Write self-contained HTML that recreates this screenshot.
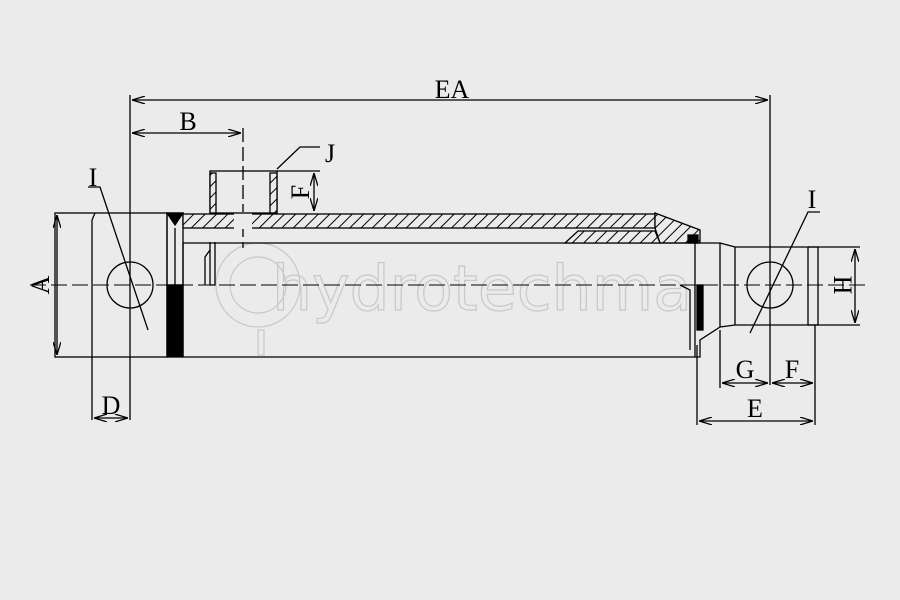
<!DOCTYPE html>
<html><head><style>html,body{margin:0;padding:0;background:#ebebeb}svg{display:block}</style></head><body>
<svg width="900" height="600" viewBox="0 0 900 600" xmlns="http://www.w3.org/2000/svg" font-family="Liberation Serif, serif">
<defs>
<pattern id="h" width="8" height="8" patternUnits="userSpaceOnUse" patternTransform="rotate(45)">
<rect width="8" height="8" fill="#ebebeb"/><line x1="0" y1="0" x2="0" y2="8" stroke="#000" stroke-width="2"/>
</pattern>
<marker id="a" markerWidth="10" markerHeight="6" refX="10" refY="3" orient="auto-start-reverse"><path d="M0,0 L10,3 L0,6" fill="none" stroke="#000" stroke-width="1"/></marker>
</defs>
<rect width="900" height="600" fill="#ebebeb"/>
<!-- watermark -->
<g fill="none" stroke="#c8c8c8" stroke-width="1.2">
<circle cx="258" cy="285" r="42"/><circle cx="258" cy="285" r="28"/>
<text x="272" y="310" font-family="DejaVu Sans, sans-serif" font-size="62" textLength="420" lengthAdjust="spacingAndGlyphs">hydrotechma</text>
<rect x="258" y="330" width="6" height="25"/>
</g>
<g stroke="#000" fill="none" stroke-width="1.3">
<!-- EA -->
<line x1="130" y1="95" x2="130" y2="420"/>
<line x1="770" y1="95" x2="770" y2="385"/>
<line x1="132" y1="100" x2="768" y2="100" marker-start="url(#a)" marker-end="url(#a)"/>
<!-- B -->
<line x1="243" y1="128" x2="243" y2="248" stroke-dasharray="14,5"/>
<line x1="132" y1="133" x2="241" y2="133" marker-start="url(#a)" marker-end="url(#a)"/>
<!-- left clevis -->
<rect x="55" y="213" width="112" height="144"/>
<line x1="92" y1="220" x2="92" y2="420"/>
<path d="M92,220 L95,213"/>
<circle cx="130" cy="285" r="23"/>
<line x1="57" y1="215" x2="57" y2="355" marker-start="url(#a)" marker-end="url(#a)"/>
<line x1="94" y1="418" x2="128" y2="418" marker-start="url(#a)" marker-end="url(#a)"/>
<rect x="167" y="285" width="16" height="72" fill="#000"/>
<rect x="167" y="213" width="16" height="72"/>
<line x1="175" y1="228" x2="175" y2="285"/>
<path d="M167,213 L183,213 L175,225 Z" fill="#000"/>
<!-- tube -->
<rect x="183" y="214" width="472" height="14" fill="url(#h)" stroke="#000"/>
<path d="M655,213 L700,230 L700,243 L660,243 L655,228 Z" fill="url(#h)"/>
<rect x="234" y="212" width="18" height="17" fill="#ebebeb" stroke="none"/>
<line x1="183" y1="243" x2="700" y2="243"/>
<line x1="183" y1="243" x2="183" y2="357"/>
<line x1="183" y1="357" x2="695" y2="357"/>
<path d="M565,243 L578,231 L655,231 L660,243 Z" fill="url(#h)"/>
<rect x="688" y="235" width="10" height="8" fill="#000"/>
<!-- piston -->
<path d="M210,250 L205,257 L205,285 M210,242 L210,285 L215,285 L215,242"/>
<!-- rod/end -->
<path d="M695,357 L695,243"/>
<path d="M680,285 L690,290 L690,350"/>
<rect x="697" y="285" width="6" height="45" fill="#000"/>
<path d="M700,243 L720,243 L720,327 L700,340 L700,357 L695,357"/>
<path d="M720,243 L735,247 L808,247 L808,325 L735,325 L720,327"/>
<line x1="735" y1="247" x2="735" y2="325"/>
<path d="M808,247 L818,247 L818,325 L808,325"/>
<circle cx="770" cy="285" r="23"/>
<line x1="808" y1="247" x2="860" y2="247"/><line x1="808" y1="325" x2="860" y2="325"/>
<line x1="855" y1="249" x2="855" y2="323" marker-start="url(#a)" marker-end="url(#a)"/>
<!-- port -->
<rect x="210" y="171" width="67" height="42"/>
<rect x="210" y="173" width="6" height="40" fill="url(#h)"/>
<rect x="270" y="173" width="7" height="40" fill="url(#h)"/>
<line x1="277" y1="171" x2="320" y2="171"/>
<line x1="314" y1="173" x2="314" y2="211" marker-start="url(#a)" marker-end="url(#a)"/>
<path d="M277,169 L300,147 L320,147"/>
<!-- G F E -->
<line x1="720" y1="330" x2="720" y2="388"/>
<line x1="697" y1="345" x2="697" y2="425"/>
<line x1="815" y1="325" x2="815" y2="425"/>
<line x1="722" y1="383" x2="768" y2="383" marker-start="url(#a)" marker-end="url(#a)"/>
<line x1="772" y1="383" x2="813" y2="383" marker-start="url(#a)" marker-end="url(#a)"/>
<line x1="699" y1="421" x2="813" y2="421" marker-start="url(#a)" marker-end="url(#a)"/>
<!-- I leaders -->
<path d="M88,187 L100,187 L148,330" />
<path d="M820,212 L808,212 L750,333"/>
<!-- centerline -->
<line x1="30" y1="285" x2="870" y2="285" stroke-dasharray="16,5" stroke-width="1"/>
</g>
<g font-size="26" fill="#000" text-anchor="middle">
<text x="452" y="98">EA</text>
<text x="188" y="130">B</text>
<text x="330" y="162">J</text>
<text x="93" y="186">I</text>
<text x="812" y="208">I</text>
<text x="111" y="414">D</text>
<text x="745" y="378">G</text>
<text x="792" y="378">F</text>
<text x="755" y="417">E</text>
<text x="300" y="201" transform="rotate(-90 300 192)">F</text>
<text x="40" y="294" transform="rotate(-90 40 285)">A</text>
<text x="843" y="294" transform="rotate(90 843 285)">H</text>
</g>
</svg>
</body></html>
